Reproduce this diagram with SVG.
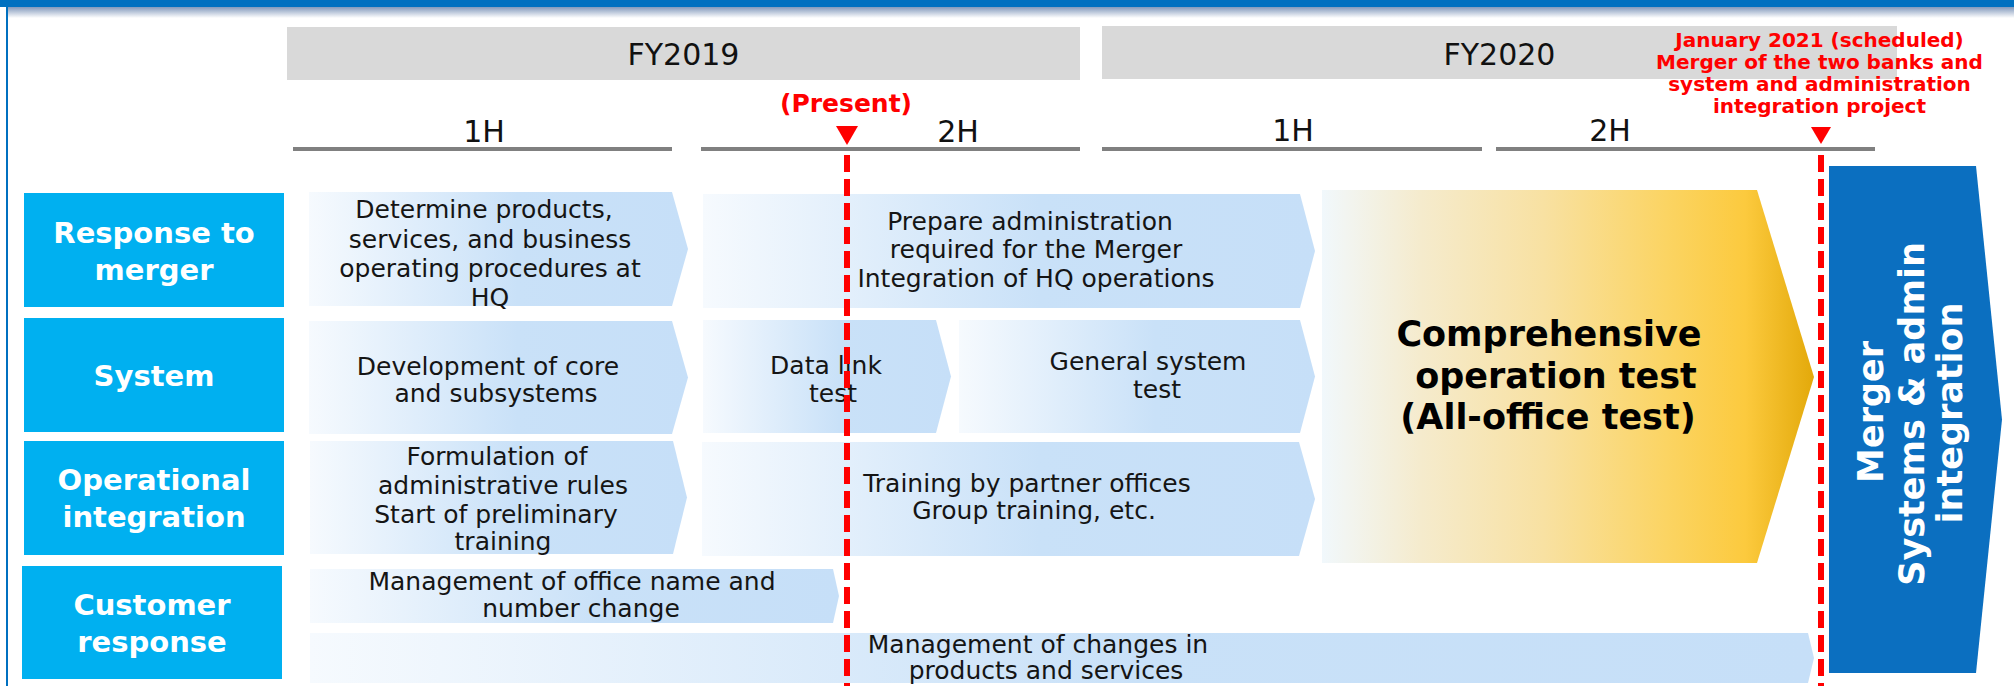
<svg xmlns="http://www.w3.org/2000/svg" width="2014" height="686" viewBox="0 0 2014 686">
  <defs>
    <linearGradient id="taskFill" x1="0" y1="0" x2="1" y2="0">
      <stop offset="0" stop-color="#F6FAFE"/>
      <stop offset="0.55" stop-color="#C9E1F8"/>
      <stop offset="1" stop-color="#C6DFF8"/>
    </linearGradient>
    <linearGradient id="testFill" x1="0" y1="0" x2="1" y2="0">
      <stop offset="0" stop-color="#F1F8FC"/>
      <stop offset="0.2" stop-color="#F5EBCD"/>
      <stop offset="0.45" stop-color="#F8E1A2"/>
      <stop offset="0.7" stop-color="#FBD463"/>
      <stop offset="0.86" stop-color="#FCCA3E"/>
      <stop offset="1" stop-color="#E3A90A"/>
    </linearGradient>
    <linearGradient id="barShadow" x1="0" y1="0" x2="0" y2="1">
      <stop offset="0" stop-color="#2F558F" stop-opacity="0.6"/>
      <stop offset="1" stop-color="#2F558F" stop-opacity="0"/>
    </linearGradient>
  </defs>
  <style>
    .year { fill: #D9D9D9; }
    .yearText { font-family: "DejaVu Sans", Verdana, sans-serif; font-size: 30px; fill: #111; text-anchor: middle; }
    .half { stroke: #808080; stroke-width: 4; }
    .rowBox { fill: #00B0F0; }
    .rowText { font-family: "DejaVu Sans", Verdana, sans-serif; font-weight: bold; font-size: 29px; fill: #fff; text-anchor: middle; }
    .task { fill: url(#taskFill); }
    .taskText { font-family: "DejaVu Sans", Verdana, sans-serif; font-size: 25px; fill: #151515; text-anchor: middle; }
    .milestone { fill: #FF0000; }
    .milestoneText { font-family: "DejaVu Sans", Verdana, sans-serif; font-weight: bold; fill: #FF0000; text-anchor: middle; }
    .dash { stroke: #FF0000; stroke-width: 6; stroke-dasharray: 17 7; fill: none; }
    .bigText { font-family: "DejaVu Sans", Verdana, sans-serif; font-weight: bold; font-size: 35px; text-anchor: middle; }
  </style>

  <rect x="0" y="0" width="2014" height="686" fill="#FFFFFF"/>

  <!-- page frame -->
  <g id="frame">
    <rect x="8" y="7" width="2006" height="11" fill="url(#barShadow)"/>
    <rect x="0" y="0" width="2014" height="7" fill="#0070C0"/>
    <rect x="6" y="7" width="2" height="679" fill="#0070C0"/>
  </g>

  <!-- fiscal year header -->
  <g id="fy2019">
    <rect class="year" x="287" y="27" width="793" height="53"/>
    <text class="yearText" x="683.5" y="65">FY2019</text>
  </g>
  <g id="fy2020">
    <rect class="year" x="1102" y="26" width="795" height="53"/>
    <text class="yearText" x="1499.5" y="65">FY2020</text>
  </g>

  <!-- half-year scale -->
  <g id="fy2019-1h">
    <line class="half" x1="293" y1="149" x2="672" y2="149"/>
    <text class="yearText" x="484" y="142">1H</text>
  </g>
  <g id="fy2019-2h">
    <line class="half" x1="701" y1="149" x2="1080" y2="149"/>
    <text class="yearText" x="958" y="142">2H</text>
  </g>
  <g id="fy2020-1h">
    <line class="half" x1="1102" y1="149" x2="1482" y2="149"/>
    <text class="yearText" x="1293" y="141">1H</text>
  </g>
  <g id="fy2020-2h">
    <line class="half" x1="1496" y1="149" x2="1875" y2="149"/>
    <text class="yearText" x="1610" y="141">2H</text>
  </g>

  <!-- row headings -->
  <g id="row-merger">
    <rect class="rowBox" x="24" y="193" width="260" height="114"/>
    <text class="rowText" x="154" y="243">Response to</text>
    <text class="rowText" x="154" y="280">merger</text>
  </g>
  <g id="row-system">
    <rect class="rowBox" x="24" y="318" width="260" height="114"/>
    <text class="rowText" x="154" y="386">System</text>
  </g>
  <g id="row-operational">
    <rect class="rowBox" x="24" y="441" width="260" height="114"/>
    <text class="rowText" x="154" y="490">Operational</text>
    <text class="rowText" x="154" y="527">integration</text>
  </g>
  <g id="row-customer">
    <rect class="rowBox" x="22" y="566" width="260" height="113"/>
    <text class="rowText" x="152" y="615">Customer</text>
    <text class="rowText" x="152" y="652">response</text>
  </g>

  <!-- tasks: response to merger -->
  <g id="task-hq-procedures">
    <polygon class="task" points="309,192 672,192 688,249 672,306 309,306"/>
    <text class="taskText" x="484" y="218">Determine products,</text>
    <text class="taskText" x="490" y="247.5">services, and business</text>
    <text class="taskText" x="490" y="277">operating procedures at</text>
    <text class="taskText" x="490" y="306">HQ</text>
  </g>
  <g id="task-prepare-admin">
    <polygon class="task" points="703,194 1300,194 1315,251 1300,308 703,308"/>
    <text class="taskText" x="1030" y="230">Prepare administration</text>
    <text class="taskText" x="1036" y="258">required for the Merger</text>
    <text class="taskText" x="1036" y="287">Integration of HQ operations</text>
  </g>

  <!-- tasks: system -->
  <g id="task-core-dev">
    <polygon class="task" points="309,321 672,321 688,377.5 672,434 309,434"/>
    <text class="taskText" x="488" y="375">Development of core</text>
    <text class="taskText" x="496" y="402">and subsystems</text>
  </g>
  <g id="task-data-link">
    <polygon class="task" points="703,320 936,320 951,376.5 936,433 703,433"/>
    <text class="taskText" x="826" y="374">Data link</text>
    <text class="taskText" x="833" y="402">test</text>
  </g>
  <g id="task-general-test">
    <polygon class="task" points="959,320 1300,320 1315,376.5 1300,433 959,433"/>
    <text class="taskText" x="1148" y="370">General system</text>
    <text class="taskText" x="1157" y="398">test</text>
  </g>

  <!-- tasks: operational integration -->
  <g id="task-admin-rules">
    <polygon class="task" points="310,441 673,441 687,497.5 673,554 310,554"/>
    <text class="taskText" x="497" y="465">Formulation of</text>
    <text class="taskText" x="503" y="494">administrative rules</text>
    <text class="taskText" x="496" y="523">Start of preliminary</text>
    <text class="taskText" x="503" y="550">training</text>
  </g>
  <g id="task-training">
    <polygon class="task" points="702,442 1299,442 1315,499 1299,556 702,556"/>
    <text class="taskText" x="1027" y="492">Training by partner offices</text>
    <text class="taskText" x="1034" y="519">Group training, etc.</text>
  </g>

  <!-- tasks: customer response -->
  <g id="task-office-name">
    <polygon class="task" points="310,569 833,569 839,596 833,623 310,623"/>
    <text class="taskText" x="572" y="590">Management of office name and</text>
    <text class="taskText" x="581" y="617">number change</text>
  </g>
  <g id="task-product-changes">
    <polygon class="task" points="310,633 1808,633 1814,658 1808,683 310,683"/>
    <text class="taskText" x="1038" y="653">Management of changes in</text>
    <text class="taskText" x="1046" y="679">products and services</text>
  </g>

  <!-- comprehensive test -->
  <g id="task-all-office-test">
    <polygon fill="url(#testFill)" points="1322,190 1757,190 1814,377 1757,563 1322,563"/>
    <text class="bigText" x="1549" y="346" fill="#000">Comprehensive</text>
    <text class="bigText" x="1556" y="388" fill="#000">operation test</text>
    <text class="bigText" x="1548" y="429" fill="#000">(All-office test)</text>
  </g>

  <!-- integration goal -->
  <g id="goal-integration">
    <polygon fill="#0B6FC0" points="1829,166 1976,166 2002,419.5 1976,673 1829,673"/>
    <text class="bigText" fill="#fff" transform="rotate(-90)" x="-412" y="1883">Merger</text>
    <text class="bigText" fill="#fff" transform="rotate(-90)" x="-414" y="1924">Systems &amp; admin</text>
    <text class="bigText" fill="#fff" transform="rotate(-90)" x="-413" y="1962">integration</text>
  </g>

  <!-- milestones -->
  <g id="milestone-present">
    <text class="milestoneText" x="846" y="112" font-size="25">(Present)</text>
    <polygon class="milestone" points="836,126 858,126 847,145"/>
  </g>
  <g id="milestone-merger">
    <text class="milestoneText" font-size="20" x="1819.5" y="47">January 2021 (scheduled)</text>
    <text class="milestoneText" font-size="20" x="1819.5" y="69">Merger of the two banks and</text>
    <text class="milestoneText" font-size="20" x="1819.5" y="91">system and administration</text>
    <text class="milestoneText" font-size="20" x="1819.5" y="113">integration project</text>
    <polygon class="milestone" points="1811,127 1831,127 1821,144"/>
  </g>

  <g id="connectors">
    <line class="dash" x1="847" y1="155" x2="847" y2="686"/>
    <line class="dash" x1="1821" y1="155" x2="1821" y2="686"/>
  </g>
</svg>
